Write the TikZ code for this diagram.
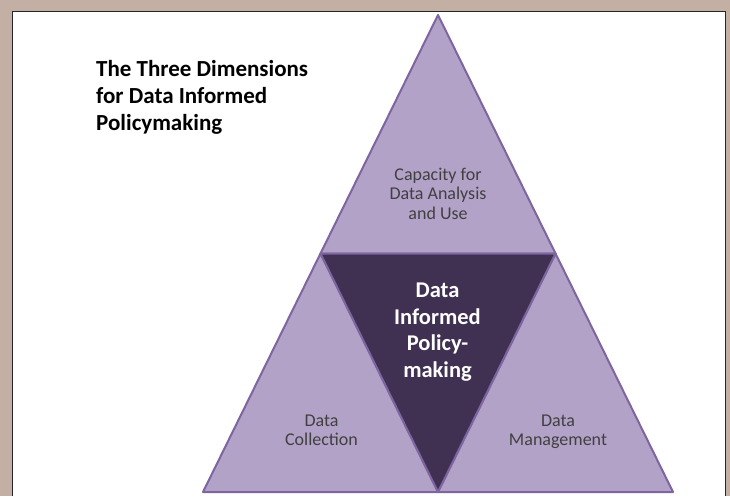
\documentclass[tikz,border=0pt]{standalone}
\usepackage{fontspec}
\setmainfont{Carlito}
\definecolor{framebrown}{HTML}{C4AFA5}
\definecolor{lightpurple}{HTML}{B3A2C7}
\definecolor{edgepurple}{HTML}{7E65A0}
\definecolor{darkpurple}{HTML}{403152}
\definecolor{labelgray}{HTML}{404040}

\begin{document}
\begin{tikzpicture}
      [%%%%%%%%%%%%%%%%%%%%%%%%%%%%%%
      x=1pt,y=-1pt,
      tri/.style={draw=edgepurple,line width=2pt,line join=round,fill=lightpurple},
      midtri/.style={tri,fill=darkpurple},
      dimlabel/.style={align=center,inner sep=0pt,text=labelgray,font=\fontsize{18}{19.3}\selectfont},
      corelabel/.style={align=center,inner sep=0pt,text=white,font=\fontsize{22.5}{26.7}\selectfont\bfseries},
      ]%%%%%%%%%%%%%%%%%%%%%%%%%%%%%%

      % frame
      \fill[framebrown] (0,0) rectangle (730,496);
      \fill[white] (13,12) rectangle (725,496);
      \draw[black!85,line width=1.6pt] (12.5,496) -- (12.5,11.5) -- (725.5,11.5) -- (725.5,496);

      % corners of the big triangle
      \coordinate (apex) at (438,15);
      \coordinate (bl) at (203,492);
      \coordinate (br) at (673,492);
      \coordinate (lm) at (320.5,253.5);
      \coordinate (rm) at (555.5,253.5);
      \coordinate (bm) at (438,492);

      \draw[tri] (apex) -- (rm) -- (lm) -- cycle;
      \draw[tri] (lm) -- (bm) -- (bl) -- cycle;
      \draw[tri] (rm) -- (br) -- (bm) -- cycle;
      \draw[midtri] (lm) -- (rm) -- (bm) -- cycle;

      \node[anchor=west,inner sep=0pt,align=left,font=\fontsize{23}{27}\selectfont\bfseries]
        (title) at (96,97.5) {The Three Dimensions\\for Data Informed\\Policymaking};

      \node[dimlabel] (capacity) at (438,193.7) {Capacity for\\Data Analysis\\and Use};
      \node[dimlabel] (collection) at (321.5,430) {Data\\Collection};
      \node[dimlabel] (management) at (558,432) {Data\\Management};
      \node[corelabel] (core) at (437.5,332) {Data\\Informed\\Policy-\\making};
    \end{tikzpicture}
\end{document}
